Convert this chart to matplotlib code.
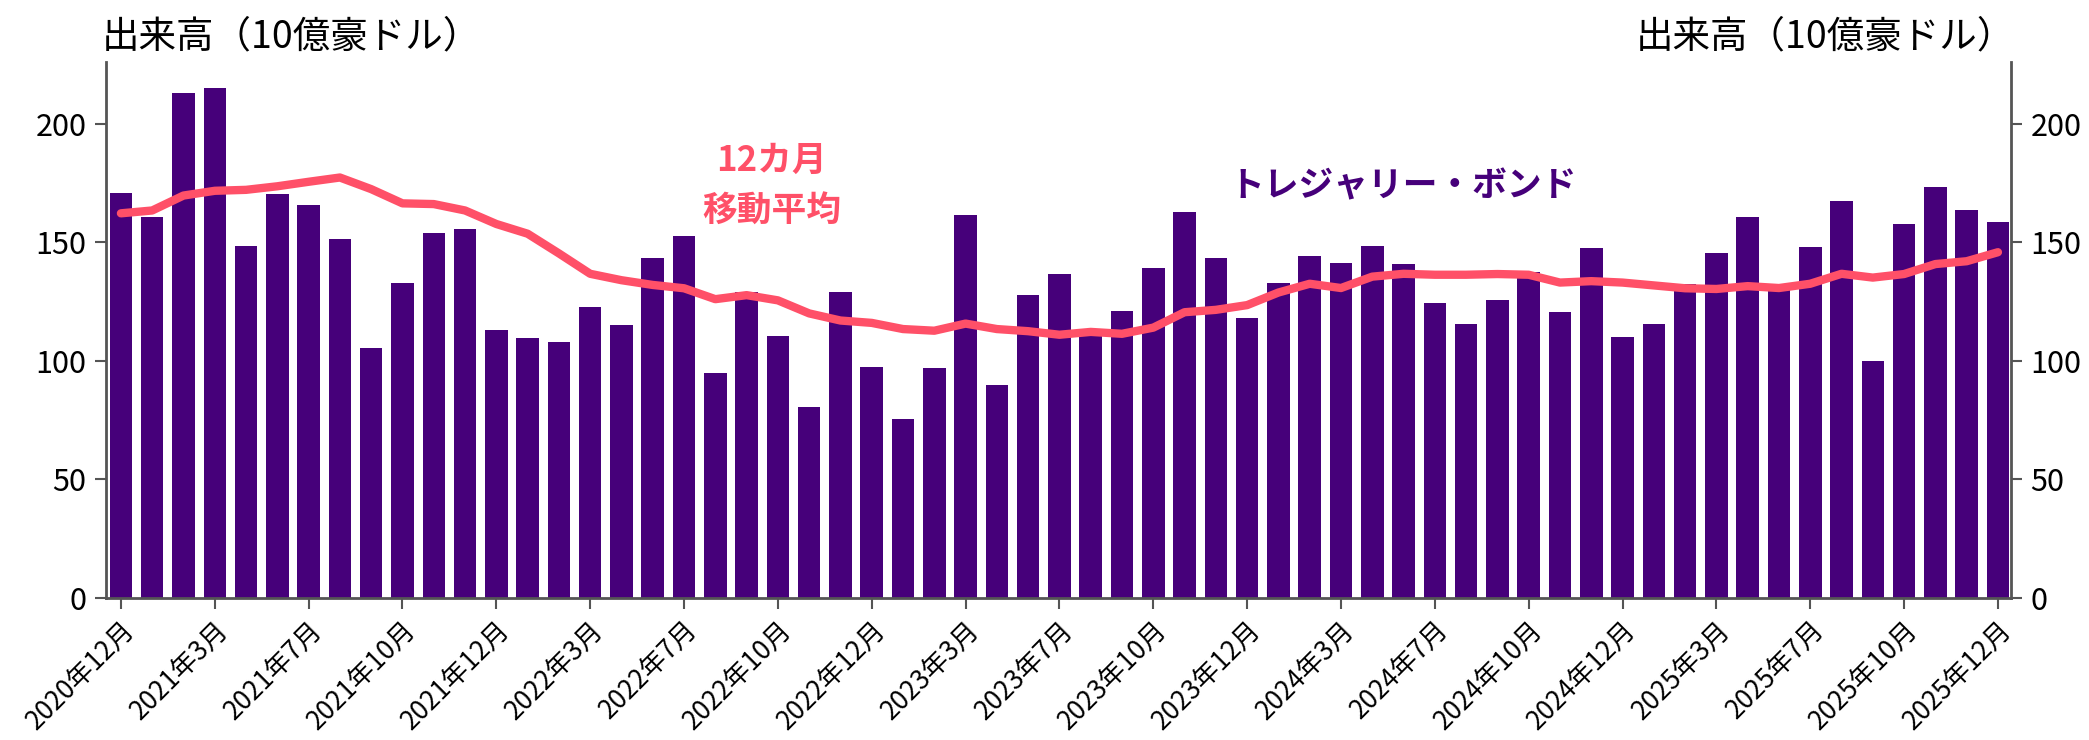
import numpy as np
import matplotlib
matplotlib.use("Agg")
import matplotlib.pyplot as plt

plt.rcParams['font.family'] = ['Noto Sans CJK JP', 'DejaVu Sans']

# monthly volume, Dec 2020 - Dec 2025 (A$ bn)
volume = [170.6, 160.7, 213.1, 215.2, 148.6, 170.5, 165.8, 151.4, 105.4, 133.0, 153.9, 155.7, 113.0,
          109.5, 107.8, 122.6, 114.9, 143.5, 152.7, 94.7, 129.2, 110.5, 80.4, 128.9, 97.4, 75.6,
          96.8, 161.3, 89.9, 127.6, 136.7, 111.0, 121.2, 139.3, 162.7, 143.4, 118.1, 132.8, 144.3,
          141.4, 148.6, 140.8, 124.4, 115.5, 125.8, 137.3, 120.5, 147.4, 110.2, 115.5, 132.4, 145.3,
          160.8, 131.8, 148.0, 167.3, 99.8, 157.7, 173.2, 163.4, 158.4]

# 12-month moving average
moving_avg = [162.2, 163.4, 169.7, 171.7, 172.1, 173.6, 175.5, 177.3, 172.4, 166.4, 166.1, 163.4, 157.7,
              153.6, 145.3, 136.7, 134.0, 132.0, 130.6, 126.0, 127.7, 125.5, 120.0, 117.0, 116.0, 113.4,
              112.7, 115.7, 113.4, 112.5, 111.0, 112.2, 111.4, 114.0, 120.5, 121.5, 123.5, 128.8, 132.5,
              130.7, 135.5, 136.7, 136.3, 136.3, 136.6, 136.3, 133.0, 133.6, 133.0, 131.8, 130.6, 130.3,
              131.5, 130.7, 132.5, 136.7, 135.1, 136.6, 140.8, 142.0, 145.8]

tick_labels = ["2020年12月", "2021年3月", "2021年7月", "2021年10月", "2021年12月", "2022年3月",
               "2022年7月", "2022年10月", "2022年12月", "2023年3月", "2023年7月", "2023年10月",
               "2023年12月", "2024年3月", "2024年7月", "2024年10月", "2024年12月", "2025年3月",
               "2025年7月", "2025年10月", "2025年12月"]

bar_color = "#46007a"
line_color = "#ff5068"
axis_color = "#555555"

fig = plt.figure(figsize=(20.89, 7.40), dpi=100)
ax = fig.add_axes([0.0507, 0.1919, 0.9120, 0.7243])

x = np.arange(len(volume))
ax.bar(x, volume, width=0.72, color=bar_color, zorder=2)
ax.plot(x, moving_avg, color=line_color, lw=6, solid_capstyle='round', solid_joinstyle='round', zorder=3)

ax.set_xlim(-0.48, len(volume) - 1 + 0.42)
ax.set_ylim(0, 226)
ax.set_yticks([0, 50, 100, 150, 200])

ax.set_xticks(x[::3])
ax.set_xticklabels(tick_labels, rotation=45, ha='right', va='top', rotation_mode='anchor')

ax.yaxis.set_ticks_position('both')
ax.tick_params(axis='y', labelright=True, labelsize=22, length=8, width=1.5, color=axis_color, pad=6)
ax.tick_params(axis='x', labelsize=19, length=8, width=1.5, color=axis_color, pad=5)

ax.spines['top'].set_visible(False)
for s in ['left', 'right', 'bottom']:
    ax.spines[s].set_color(axis_color)
    ax.spines[s].set_linewidth(2)

# axis titles
fig.text(101.5 / 2089, 1 - 37 / 740, "出来高（10億豪ドル）", fontsize=27, ha='left', va='center')
fig.text(2015 / 2089, 1 - 37 / 740, "出来高（10億豪ドル）", fontsize=27, ha='right', va='center')

# series labels
ax.text(20.8, 173.8, "12カ月\n移動平均", color=line_color, fontsize=25, fontweight='bold',
        ha='center', va='center', linespacing=1.58)
ax.text(41.0, 173.8, "トレジャリー・ボンド", color=bar_color, fontsize=25, fontweight='bold',
        ha='center', va='center')

fig.savefig("out.png", dpi=100)
